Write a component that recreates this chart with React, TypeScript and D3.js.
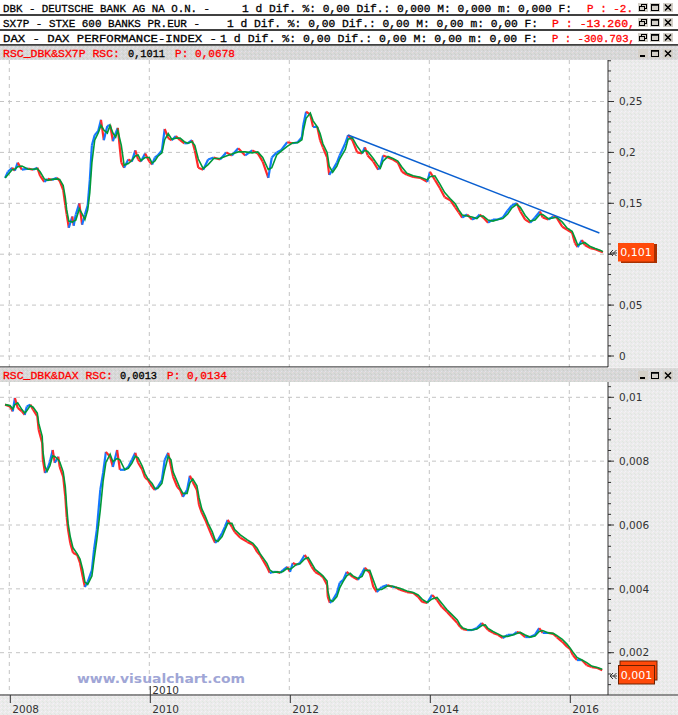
import React from 'react';
import * as d3 from 'd3';

// ---------- DATA ----------
const yearTicks = [2008, 2010, 2012, 2014, 2016];
const rsc1Ticks = [0, 0.05, 0.1, 0.15, 0.2, 0.25];
const rsc1Labels = [0, 0.05, 0.15, 0.2, 0.25]; // 0,1 is hidden behind the price box
const rsc2Ticks = [0.002, 0.004, 0.006, 0.008, 0.01];

const rscSx7pDates = [2007.94, 2007.98, 2008.04, 2008.08, 2008.12, 2008.18, 2008.27, 2008.34, 2008.40, 2008.44,
  2008.50, 2008.55, 2008.61, 2008.68, 2008.72, 2008.77, 2008.80, 2008.82, 2008.85, 2008.90,
  2008.92, 2008.95, 2009.00, 2009.04, 2009.08, 2009.12, 2009.15, 2009.18, 2009.22, 2009.27,
  2009.31, 2009.35, 2009.40, 2009.44, 2009.48, 2009.52, 2009.55, 2009.60, 2009.64, 2009.70,
  2009.75, 2009.80, 2009.84, 2009.88, 2009.94, 2010.00, 2010.04, 2010.08, 2010.12, 2010.18,
  2010.22, 2010.27, 2010.32, 2010.38, 2010.44, 2010.50, 2010.55, 2010.61, 2010.65, 2010.70,
  2010.77, 2010.84, 2010.92, 2011.01, 2011.10, 2011.18, 2011.27, 2011.37, 2011.47, 2011.55,
  2011.62, 2011.70, 2011.75, 2011.82, 2011.88, 2011.97, 2012.05, 2012.12, 2012.18, 2012.20,
  2012.24, 2012.30, 2012.34, 2012.40, 2012.44, 2012.48, 2012.54, 2012.57, 2012.62, 2012.68,
  2012.72, 2012.80, 2012.84, 2012.90, 2012.97, 2013.04, 2013.08, 2013.12, 2013.20, 2013.27,
  2013.30, 2013.34, 2013.41, 2013.48, 2013.55, 2013.61, 2013.68, 2013.77, 2013.87, 2013.97,
  2014.01, 2014.08, 2014.15, 2014.22, 2014.30, 2014.37, 2014.42, 2014.47, 2014.54, 2014.61,
  2014.68, 2014.72, 2014.77, 2014.84, 2014.91, 2014.98, 2015.05, 2015.12, 2015.18, 2015.25,
  2015.30, 2015.37, 2015.44, 2015.51, 2015.58, 2015.62, 2015.70, 2015.77, 2015.82, 2015.90,
  2015.97, 2016.04, 2016.08, 2016.12, 2016.18, 2016.22, 2016.30, 2016.37, 2016.44, 2016.48];
const rscSx7pValues = [0.175, 0.181, 0.185, 0.182, 0.190, 0.183, 0.184, 0.183, 0.185, 0.177,
  0.171, 0.174, 0.173, 0.175, 0.172, 0.163, 0.148, 0.139, 0.126, 0.137,
  0.128, 0.139, 0.150, 0.129, 0.139, 0.148, 0.173, 0.207, 0.217, 0.221,
  0.232, 0.212, 0.226, 0.227, 0.211, 0.219, 0.224, 0.190, 0.185, 0.193,
  0.191, 0.202, 0.193, 0.191, 0.199, 0.191, 0.188, 0.195, 0.197, 0.202,
  0.223, 0.214, 0.212, 0.216, 0.212, 0.209, 0.209, 0.212, 0.202, 0.185,
  0.183, 0.193, 0.195, 0.193, 0.200, 0.197, 0.204, 0.197, 0.202, 0.199,
  0.191, 0.175, 0.195, 0.200, 0.202, 0.210, 0.209, 0.210, 0.215, 0.227,
  0.240, 0.237, 0.225, 0.225, 0.212, 0.205, 0.195, 0.178, 0.183, 0.190,
  0.197, 0.209, 0.217, 0.212, 0.200, 0.199, 0.205, 0.197, 0.191, 0.183,
  0.186, 0.197, 0.195, 0.193, 0.190, 0.181, 0.178, 0.176, 0.175, 0.171,
  0.181, 0.173, 0.165, 0.156, 0.153, 0.146, 0.141, 0.136, 0.139, 0.134,
  0.136, 0.139, 0.136, 0.131, 0.134, 0.134, 0.136, 0.143, 0.148, 0.150,
  0.142, 0.134, 0.131, 0.136, 0.142, 0.136, 0.134, 0.137, 0.136, 0.127,
  0.124, 0.121, 0.111, 0.107, 0.114, 0.109, 0.106, 0.105, 0.103, 0.102];

const trendDates = [2012.84, 2016.43];
const trendValues = [0.2171, 0.1208];

const rscDaxDates = [2007.94, 2008.01, 2008.05, 2008.08, 2008.12, 2008.18, 2008.22, 2008.25, 2008.30, 2008.34,
  2008.40, 2008.42, 2008.47, 2008.48, 2008.51, 2008.54, 2008.58, 2008.62, 2008.65, 2008.70,
  2008.72, 2008.77, 2008.80, 2008.82, 2008.84, 2008.87, 2008.91, 2008.97, 2009.01, 2009.05,
  2009.08, 2009.12, 2009.18, 2009.21, 2009.25, 2009.30, 2009.34, 2009.38, 2009.44, 2009.48,
  2009.54, 2009.58, 2009.65, 2009.70, 2009.75, 2009.80, 2009.84, 2009.90, 2009.94, 2009.98,
  2010.04, 2010.08, 2010.12, 2010.18, 2010.22, 2010.27, 2010.31, 2010.34, 2010.40, 2010.44,
  2010.48, 2010.54, 2010.58, 2010.62, 2010.68, 2010.71, 2010.75, 2010.80, 2010.84, 2010.90,
  2010.94, 2010.98, 2011.04, 2011.08, 2011.12, 2011.18, 2011.22, 2011.30, 2011.40, 2011.48,
  2011.54, 2011.58, 2011.62, 2011.68, 2011.72, 2011.77, 2011.82, 2011.87, 2011.91, 2011.97,
  2012.01, 2012.05, 2012.11, 2012.15, 2012.22, 2012.27, 2012.32, 2012.37, 2012.44, 2012.48,
  2012.54, 2012.55, 2012.58, 2012.62, 2012.68, 2012.72, 2012.77, 2012.82, 2012.87, 2012.91,
  2012.98, 2013.04, 2013.08, 2013.15, 2013.20, 2013.25, 2013.32, 2013.40, 2013.47, 2013.51,
  2013.58, 2013.68, 2013.77, 2013.84, 2013.90, 2013.97, 2014.04, 2014.11, 2014.18, 2014.25,
  2014.32, 2014.40, 2014.44, 2014.48, 2014.54, 2014.61, 2014.68, 2014.75, 2014.80, 2014.84,
  2014.91, 2014.98, 2015.05, 2015.12, 2015.20, 2015.25, 2015.30, 2015.37, 2015.44, 2015.51,
  2015.57, 2015.62, 2015.70, 2015.77, 2015.82, 2015.90, 2015.97, 2016.01, 2016.05, 2016.11,
  2016.18, 2016.25, 2016.32, 2016.40, 2016.47];
const rscDaxValues = [0.00977, 0.00971, 0.00956, 0.00998, 0.00967, 0.00956, 0.00945, 0.00971, 0.00977, 0.00961,
  0.00940, 0.00898, 0.00857, 0.00804, 0.00763, 0.00773, 0.00798, 0.00835, 0.00795, 0.00814,
  0.00782, 0.00751, 0.00688, 0.00625, 0.00585, 0.00544, 0.00513, 0.00506, 0.00481, 0.00437,
  0.00406, 0.00422, 0.00459, 0.00522, 0.00585, 0.00710, 0.00763, 0.00829, 0.00814, 0.00782,
  0.00835, 0.00773, 0.00773, 0.00782, 0.00804, 0.00826, 0.00795, 0.00773, 0.00748, 0.00741,
  0.00719, 0.00710, 0.00719, 0.00741, 0.00804, 0.00826, 0.00782, 0.00751, 0.00719, 0.00710,
  0.00688, 0.00710, 0.00754, 0.00735, 0.00710, 0.00663, 0.00638, 0.00616, 0.00594, 0.00563,
  0.00544, 0.00553, 0.00575, 0.00594, 0.00616, 0.00594, 0.00578, 0.00560, 0.00547, 0.00538,
  0.00516, 0.00506, 0.00491, 0.00469, 0.00450, 0.00453, 0.00453, 0.00450, 0.00459, 0.00469,
  0.00453, 0.00481, 0.00475, 0.00481, 0.00506, 0.00491, 0.00469, 0.00453, 0.00444, 0.00437,
  0.00412, 0.00375, 0.00356, 0.00365, 0.00387, 0.00419, 0.00428, 0.00453, 0.00444, 0.00437,
  0.00428, 0.00450, 0.00466, 0.00450, 0.00406, 0.00390, 0.00406, 0.00412, 0.00406, 0.00406,
  0.00397, 0.00390, 0.00387, 0.00375, 0.00359, 0.00356, 0.00381, 0.00365, 0.00343, 0.00328,
  0.00312, 0.00293, 0.00281, 0.00274, 0.00271, 0.00271, 0.00277, 0.00293, 0.00281, 0.00271,
  0.00262, 0.00256, 0.00246, 0.00256, 0.00256, 0.00265, 0.00262, 0.00249, 0.00249, 0.00256,
  0.00277, 0.00262, 0.00262, 0.00259, 0.00249, 0.00234, 0.00218, 0.00212, 0.00193, 0.00177,
  0.00177, 0.00161, 0.00155, 0.00152, 0.00145];

// ---------- LAYOUT ----------
const W = 678, H = 715;
const PR = 608; // plot right edge
const P1 = { top: 60, bottom: 367 };
const P2 = { top: 382, bottom: 694 };

const x = d3.scaleLinear().domain([2008, 2016]).range([9.3, 569.3]);
const y1 = d3.scaleLinear().domain([0, 0.25]).range([356, 101.5]);
const y2 = d3.scaleLinear().domain([0.002, 0.01]).range([652.7, 397.3]);

const BLUE = '#1477ff', RED = '#ff2a2a', GREEN = '#009a3a';
const MONO = '"Liberation Mono", "DejaVu Sans Mono", monospace';
const SANS = '"DejaVu Sans", Verdana, sans-serif';

function movingAvg(v: number[], n: number) {
  return v.map((_, i) => d3.mean(v.slice(Math.max(0, i - n + 1), i + 1)) as number);
}

function Series({ dates, values, y }: { dates: number[]; values: number[]; y: d3.ScaleLinear<number, number> }) {
  const ma = movingAvg(values, 2);
  const line = d3.line<number>().x((_, i) => x(dates[i])).y((d) => y(d)).curve(d3.curveLinear);
  return (
    <g>
      {values.slice(1).map((v, i) => {
        const up = v >= values[i];
        return (
          <line key={i} x1={x(dates[i])} y1={y(values[i])} x2={x(dates[i + 1])} y2={y(v)}
            stroke={up ? BLUE : RED} strokeWidth={2.2} />
        );
      })}
      <path d={line(ma) || ''} fill="none" stroke={GREEN} strokeWidth={1.6} />
    </g>
  );
}

function Icon({ kind, x0, y0 }: { kind: string; x0: number; y0: number }) {
  const bg = <rect x={x0} y={y0} width={10} height={9} fill="#d4d0c8" />;
  if (kind === 'restore')
    return (<g>{bg}
      <rect x={x0 + 3.5} y={y0 + 1.5} width={5} height={4} fill="none" stroke="#000" strokeWidth={1} />
      <rect x={x0 + 1.5} y={y0 + 3.5} width={5} height={4} fill="#d4d0c8" stroke="#000" strokeWidth={1} />
    </g>);
  if (kind === 'max')
    return (<g>{bg}
      <rect x={x0 + 1.5} y={y0 + 1.5} width={7} height={6} fill="none" stroke="#000" strokeWidth={1} />
      <line x1={x0 + 1.5} x2={x0 + 8.5} y1={y0 + 2} y2={y0 + 2} stroke="#000" strokeWidth={1.5} />
    </g>);
  if (kind === 'min')
    return (<g>{bg}
      <line x1={x0 + 2} x2={x0 + 7} y1={y0 + 7} y2={y0 + 7} stroke="#000" strokeWidth={2} />
    </g>);
  return (<g>{bg}
    <path d={`M${x0 + 2},${y0 + 1.5}L${x0 + 8},${y0 + 7.5}M${x0 + 8},${y0 + 1.5}L${x0 + 2},${y0 + 7.5}`} stroke="#000" strokeWidth={1.5} />
  </g>);
}

function Icons({ y0, first }: { y0: number; first: string }) {
  return (<g>
    <Icon kind={first} x0={638} y0={y0} />
    <Icon kind="max" x0={650} y0={y0} />
    <Icon kind="close" x0={663} y0={y0} />
  </g>);
}

function T({ x0, y0, len, color = '#000', children }: any) {
  return (
    <text x={x0} y={y0} textLength={len} lengthAdjust="spacingAndGlyphs" fill={color}
      fontFamily={MONO} fontSize={11} stroke={color} strokeWidth={0.3}>{children}</text>
  );
}

function Arrow({ cy }: { cy: number }) {
  return (
    <path d={`M617,${cy}L610,${cy}M613,${cy - 3}L610,${cy}L613,${cy + 3}M616.5,${cy - 3}L613.5,${cy}L616.5,${cy + 3}`}
      stroke="#333" strokeWidth={1} fill="none" />
  );
}

const fmt = (v: number, d: number) => String(+v.toFixed(d)).replace('.', ',');

export default function App() {
  const minor1 = d3.range(0, 0.291, 0.01);
  const minor2 = d3.range(0, 0.0106, 0.002 / 6);
  return (
    <svg width={W} height={H} style={{ position: 'absolute', left: 0, top: 0, display: 'block' }}>
      <defs>
        <pattern id="speckDark" width={4} height={4} patternUnits="userSpaceOnUse">
          <rect width={4} height={4} fill="#d8d8d8" />
          <rect x={0} y={0} width={1} height={1} fill="#e8dcdc" />
          <rect x={2} y={1} width={1} height={1} fill="#ccd4cc" />
          <rect x={1} y={3} width={1} height={1} fill="#e2e2ec" />
          <rect x={3} y={2} width={1} height={1} fill="#cccccc" />
        </pattern>
        <pattern id="speckLight" width={4} height={4} patternUnits="userSpaceOnUse">
          <rect width={4} height={4} fill="#ebebeb" />
          <rect x={0} y={0} width={1} height={1} fill="#f6eef2" />
          <rect x={2} y={1} width={1} height={1} fill="#e0e8e0" />
          <rect x={1} y={3} width={1} height={1} fill="#f2f2fa" />
          <rect x={3} y={2} width={1} height={1} fill="#e2e2e2" />
        </pattern>
        <clipPath id="clip1"><rect x={0} y={P1.top} width={PR} height={P1.bottom - P1.top} /></clipPath>
        <clipPath id="clip2"><rect x={0} y={P2.top} width={PR} height={P2.bottom - P2.top} /></clipPath>
      </defs>

      {/* header rows */}
      <rect x={0} y={0} width={W} height={45} fill="#fff" />
      <T x0={3} y0={12} len={207}>DBK - DEUTSCHE BANK AG NA O.N. -</T>
      <T x0={242} y0={12} len={330}>1 d Dif. %: 0,00 Dif.: 0,000 M: 0,000 m: 0,000 F:</T>
      <T x0={587} y0={12} len={46} color="#ff0000">P : -2.</T>
      <T x0={3} y0={27} len={197}>SX7P - STXE 600 BANKS PR.EUR -</T>
      <T x0={227} y0={27} len={311}>1 d Dif. %: 0,00 Dif.: 0,00 M: 0,00 m: 0,00 F:</T>
      <T x0={552} y0={27} len={83} color="#ff0000">P : -13.260,</T>
      <T x0={3} y0={42} len={214}>DAX - DAX PERFORMANCE-INDEX -</T>
      <T x0={220} y0={42} len={318}>1 d Dif. %: 0,00 Dif.: 0,00 M: 0,00 m: 0,00 F:</T>
      <T x0={552} y0={42} len={83} color="#ff0000">P : -300.703,</T>
      <Icons y0={3} first="restore" />
      <Icons y0={18} first="restore" />
      <Icons y0={33} first="restore" />
      {[15, 30, 45].map((yy) => <line key={yy} x1={0} x2={W} y1={yy} y2={yy} stroke="#000" strokeWidth={1.5} />)}

      {/* panel 1 title bar */}
      <rect x={0} y={45.75} width={W} height={P1.top - 45.75} fill="url(#speckDark)" />
      <T x0={3} y0={57} len={117} color="#ff0000">RSC_DBK&amp;SX7P RSC:</T>
      <T x0={128} y0={57} len={37}>0,1011</T>
      <T x0={175} y0={57} len={60} color="#ff0000">P: 0,0678</T>
      <Icons y0={49} first="min" />

      {/* panel 1 */}
      <rect x={0} y={P1.top} width={PR} height={P1.bottom - P1.top} fill="#fff" />
      <rect x={PR} y={P1.top} width={W - PR} height={P1.bottom - P1.top} fill="url(#speckLight)" />
      <g stroke="#c4c4c4" strokeWidth={1} strokeDasharray="4,4">
        {rsc1Ticks.map((t) => <line key={t} x1={0} x2={PR} y1={y1(t)} y2={y1(t)} />)}
        {yearTicks.map((t) => <line key={t} x1={x(t)} x2={x(t)} y1={P1.top} y2={P1.bottom} />)}
      </g>
      <g clipPath="url(#clip1)">
        <Series dates={rscSx7pDates} values={rscSx7pValues} y={y1} />
        <line x1={x(trendDates[0])} y1={y1(trendValues[0])} x2={x(trendDates[1])} y2={y1(trendValues[1])}
          stroke="#0a5fd0" strokeWidth={1.4} />
      </g>
      <line x1={PR} x2={PR} y1={P1.top} y2={P1.bottom} stroke="#333" strokeWidth={1} />
      {minor1.map((t) => <line key={t} x1={PR} x2={PR + 3} y1={y1(t)} y2={y1(t)} stroke="#333" />)}
      {rsc1Ticks.map((t) => <line key={t} x1={PR} x2={PR + 6} y1={y1(t)} y2={y1(t)} stroke="#333" />)}
      {rsc1Labels.map((t) => (
        <text key={t} x={619} y={y1(t)} dy="0.35em" fontFamily={SANS} fontSize={10.5} fill="#333">{fmt(t, 3)}</text>
      ))}
      <Arrow cy={253} />
      <rect x={621} y={244} width={36} height={19} fill="#a83000" />
      <rect x={618} y={243} width={36} height={18.5} fill="#ff4a0a" />
      <text x={636} y={252.5} dy="0.35em" textAnchor="middle" fontFamily={SANS} fontSize={11} fill="#fff">0,101</text>
      <line x1={0} x2={PR} y1={P1.bottom} y2={P1.bottom} stroke="#000" strokeWidth={1.2} />

      {/* panel 2 title bar */}
      <rect x={0} y={P1.bottom + 0.6} width={W} height={P2.top - P1.bottom - 0.6} fill="url(#speckDark)" />
      <T x0={3} y0={379} len={110} color="#ff0000">RSC_DBK&amp;DAX RSC:</T>
      <T x0={120} y0={379} len={37}>0,0013</T>
      <T x0={167} y0={379} len={60} color="#ff0000">P: 0,0134</T>
      <Icons y0={371} first="min" />

      {/* panel 2 */}
      <rect x={0} y={P2.top} width={PR} height={P2.bottom - P2.top} fill="#fff" />
      <rect x={PR} y={P2.top} width={W - PR} height={H - P2.top} fill="url(#speckLight)" />
      <rect x={0} y={P2.bottom} width={W} height={H - P2.bottom} fill="url(#speckLight)" />
      <g stroke="#c4c4c4" strokeWidth={1} strokeDasharray="4,4">
        {rsc2Ticks.map((t) => <line key={t} x1={0} x2={PR} y1={y2(t)} y2={y2(t)} />)}
        {yearTicks.map((t) => <line key={t} x1={x(t)} x2={x(t)} y1={P2.top} y2={P2.bottom} />)}
      </g>
      <g clipPath="url(#clip2)">
        <Series dates={rscDaxDates} values={rscDaxValues} y={y2} />
      </g>
      <line x1={PR} x2={PR} y1={P2.top} y2={P2.bottom + 1} stroke="#333" strokeWidth={1} />
      {minor2.filter((t) => y2(t) > P2.top && y2(t) < P2.bottom).map((t, i) => (
        <line key={i} x1={PR} x2={PR + 3} y1={y2(t)} y2={y2(t)} stroke="#333" />
      ))}
      {rsc2Ticks.map((t) => (
        <g key={t}>
          <line x1={PR} x2={PR + 6} y1={y2(t)} y2={y2(t)} stroke="#333" />
          <text x={619} y={y2(t)} dy="0.35em" fontFamily={SANS} fontSize={10.5} fill="#333">{fmt(t, 4)}</text>
        </g>
      ))}
      <Arrow cy={676} />
      <rect x={620} y={661} width={37} height={19} fill="#ff4a0a" stroke="#6a2000" strokeWidth={1} />
      <rect x={618.5} y={665.5} width={36} height={18.5} fill="#ff4a0a" stroke="#6a2000" strokeWidth={1} />
      <text x={636.5} y={675} dy="0.35em" textAnchor="middle" fontFamily={SANS} fontSize={11} fill="#fff">0,001</text>

      {/* x axis */}
      <line x1={0} x2={W} y1={695} y2={695} stroke="#333" strokeWidth={1.2} />
      {yearTicks.map((t) => (
        <g key={t}>
          <line x1={x(t) + 1} x2={x(t) + 1} y1={695} y2={703} stroke="#333" />
          <text x={x(t) + 3} y={713} fontFamily={SANS} fontSize={10.5} fill="#333">{t}</text>
        </g>
      ))}
      <line x1={x(2010) + 1} x2={x(2010) + 1} y1={686} y2={695} stroke="#333" />
      <text x={x(2010) + 3} y={694} fontFamily={SANS} fontSize={10.5} fill="#333">2010</text>
      <text x={77} y={683} textLength={168} lengthAdjust="spacingAndGlyphs" fontFamily={SANS}
        fontWeight="bold" fontSize={12.5} fill="#a0a6d6">www.visualchart.com</text>
    </svg>
  );
}
